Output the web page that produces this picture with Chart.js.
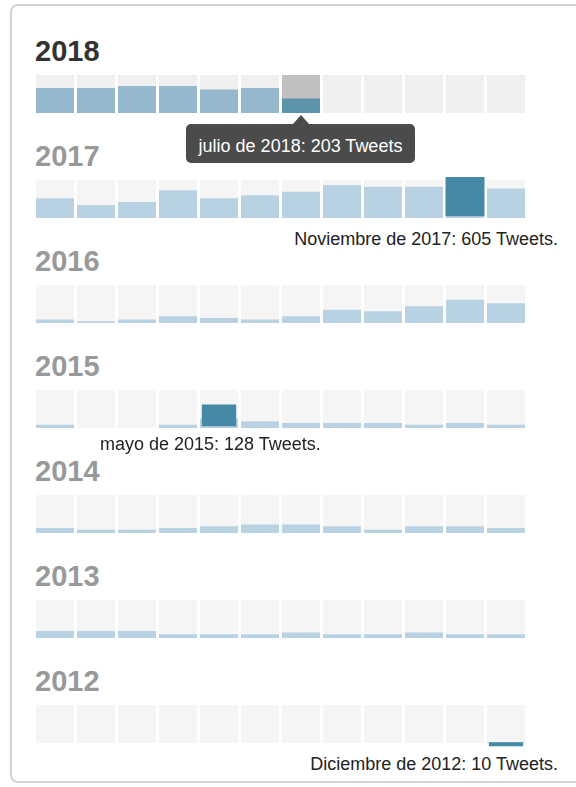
<!DOCTYPE html>
<html>
<head>
<meta charset="utf-8">
<script src="https://cdn.jsdelivr.net/npm/chart.js@4.4.1/dist/chart.umd.min.js"></script>
<style>
  html, body { margin: 0; padding: 0; background: #fff; }
  body { width: 576px; height: 787px; position: relative; overflow: hidden; font-family: "Liberation Sans", Arial, sans-serif; }
  #frame { position: absolute; left: 10px; top: 4px; width: 640px; height: 775px; border: 2px solid #d2d2d2; border-radius: 8px; }
  .year { position: absolute; left: 35px; font-size: 29px; line-height: 29px; font-weight: bold; color: #999; }
  .year.current { color: #333; }
  .row { position: absolute; left: 0; }
  .note { position: absolute; font-size: 18px; line-height: 18px; color: #222; white-space: nowrap; }
  #tip { position: absolute; left: 186px; top: 124px; width: 229px; height: 39px; background: #4b4b4b; border-radius: 5px;
         color: #fff; font-size: 18px; line-height: 45px; text-align: center; white-space: nowrap; }
  #tip::before { content: ""; position: absolute; left: 107px; top: -9px; border-left: 8px solid transparent;
                 border-right: 8px solid transparent; border-bottom: 9px solid #4b4b4b; }
</style>
</head>
<body>
<div id="frame"></div>
<div id="charts"></div>
<div id="tip">julio de 2018: 203 Tweets</div>
<div class="note" style="right:18px; top:230px;">Noviembre de 2017: 605 Tweets.</div>
<div class="note" style="left:100px; top:435px;">mayo de 2015: 128 Tweets.</div>
<div class="note" style="right:18px; top:755px;">Diciembre de 2012: 10 Tweets.</div>
<script>
// tweets per month (full cell = scaleMax)
const months = ['enero', 'febrero', 'marzo', 'abril', 'mayo', 'junio', 'julio', 'agosto', 'septiembre', 'octubre', 'noviembre', 'diciembre'];
const years = [2018, 2017, 2016, 2015, 2014, 2013, 2012];
const scaleMax = 530;

const tweets2018 = [350, 350, 376, 376, 329, 350, 203, null, null, null, null, null];
const tweets2017 = [276, 180, 223, 387, 276, 318, 366, 461, 435, 435, 605, 413];
const tweets2016 = [48, 23, 48, 95, 69, 48, 95, 186, 164, 233, 323, 276];
const tweets2015 = [47, 0, 0, 47, 128, 94, 70, 70, 70, 47, 70, 47];
const tweets2014 = [70, 44, 44, 70, 94, 117, 117, 94, 44, 94, 94, 70];
const tweets2013 = [98, 98, 98, 52, 52, 52, 75, 52, 52, 75, 52, 52];
const tweets2012 = [0, 0, 0, 0, 0, 0, 0, 0, 0, 0, 0, 10];

// selected-month markers (floating bars, low/high as drawn)
const highlight2017 = [null, null, null, null, null, null, null, null, null, null, [23, 572], null];
const highlight2015 = [null, null, null, null, [23, 328], null, null, null, null, null, null, null];
const highlight2012 = [null, null, null, null, null, null, null, null, null, null, null, [-47, 10]];

const tweetsByYear = { 2018: tweets2018, 2017: tweets2017, 2016: tweets2016, 2015: tweets2015, 2014: tweets2014, 2013: tweets2013, 2012: tweets2012 };
const highlightByYear = { 2017: highlight2017, 2015: highlight2015, 2012: highlight2012 };
const highlightWidth = { 2017: 39 / 41, 2015: 34.4 / 41, 2012: 34.3 / 41 };

const hoverYear = 2018, hoverMonth = 6;
const cellPct = 38 / 41;

const wrap = document.getElementById('charts');

years.forEach((year, k) => {
  const cellTop = 75 + 105 * k;
  const current = year === 2018;

  const title = document.createElement('div');
  title.className = current ? 'year current' : 'year';
  title.style.top = (cellTop - 38) + 'px';
  title.textContent = year;
  wrap.appendChild(title);

  const canvas = document.createElement('canvas');
  canvas.className = 'row';
  canvas.width = 576;
  canvas.height = 58;
  canvas.style.top = (cellTop - 10) + 'px';
  wrap.appendChild(canvas);

  const bgColors = months.map((m, i) => (year === hoverYear && i === hoverMonth) ? '#c0c0c0' : (current ? '#efefef' : '#f5f5f5'));
  const barColors = months.map((m, i) => (year === hoverYear && i === hoverMonth) ? '#5e94ab' : (current ? '#96b8cd' : '#b8d2e4'));

  const datasets = [
    {
      label: 'Tweets',
      data: tweetsByYear[year],
      backgroundColor: barColors,
      barPercentage: cellPct,
      categoryPercentage: 1,
      grouped: false,
      clip: 0,
      order: 2
    },
    {
      label: 'fondo',
      data: months.map(() => [0, scaleMax]),
      backgroundColor: bgColors,
      barPercentage: cellPct,
      categoryPercentage: 1,
      grouped: false,
      order: 3
    }
  ];
  if (highlightByYear[year]) {
    datasets.push({
      label: 'seleccionado',
      data: highlightByYear[year],
      backgroundColor: '#4589a6',
      barPercentage: highlightWidth[year],
      categoryPercentage: 1,
      grouped: false,
      clip: false,
      order: 1
    });
  }

  new Chart(canvas.getContext('2d'), {
    type: 'bar',
    data: { labels: months, datasets: datasets },
    options: {
      responsive: false,
      animation: false,
      events: [],
      layout: { padding: { left: 34.5, right: 49.5, top: 10, bottom: 10 } },
      plugins: { legend: { display: false }, tooltip: { enabled: false } },
      scales: {
        x: { display: false, offset: true },
        y: { display: false, min: 0, max: scaleMax }
      }
    }
  });
});
</script>
</body>
</html>
